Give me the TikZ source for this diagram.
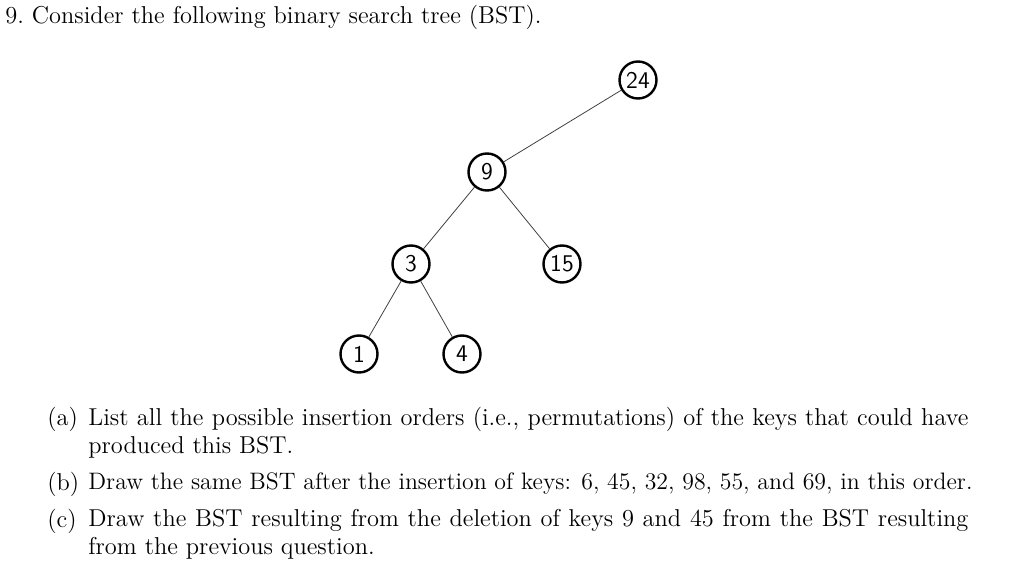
\documentclass[tikz,border=0pt]{standalone}
\begin{document}
\begin{tikzpicture}[x=0.5pt,y=-0.5pt,
  key/.style={circle,draw,line width=1.2pt,minimum size=18.5pt,inner sep=0pt,font=\sffamily\large},
  edge/.style={draw=black!75,line width=0.4pt},
  txt/.style={anchor=north west,inner sep=0pt,font=\fontsize{12.2}{14}\selectfont,align=justify},
  itm/.style={txt,text width=440pt,execute at begin node={\hyphenpenalty=10000}}]
\useasboundingbox (0,0) rectangle (1024,573);
\node[txt,align=left] (title) at (5,5) {9.\ Consider the following binary search tree (BST).};
\node[key] (n24) at (638,80) {24};
\node[key] (n9) at (487,172) {9};
\node[key] (n3) at (411,264) {3};
\node[key] (n15) at (562,264) {15};
\node[key] (n1) at (359,354) {1};
\node[key] (n4) at (462,354) {4};
\draw[edge] (n24) -- (n9);
\draw[edge] (n9) -- (n3);
\draw[edge] (n9) -- (n15);
\draw[edge] (n3) -- (n1);
\draw[edge] (n3) -- (n4);
\node[txt,align=left] (la) at (47,407) {(a)};
\node[itm] (ia) at (88,407) {List all the possible insertion orders (i.e., permutations) of the keys that could have produced this BST.};
\node[txt,align=left] (lb) at (47,472) {(b)};
\node[txt,align=left,font=\fontsize{11.9}{14}\selectfont] (ib) at (88,472) {Draw the same BST after the insertion of keys: 6, 45, 32, 98, 55, and 69, in this order.};
\node[txt,align=left] (lc) at (47,509) {(c)};
\node[itm] (ic) at (88,509) {Draw the BST resulting from the deletion of keys 9 and 45 from the BST resulting from the previous question.};
\end{tikzpicture}
\end{document}
